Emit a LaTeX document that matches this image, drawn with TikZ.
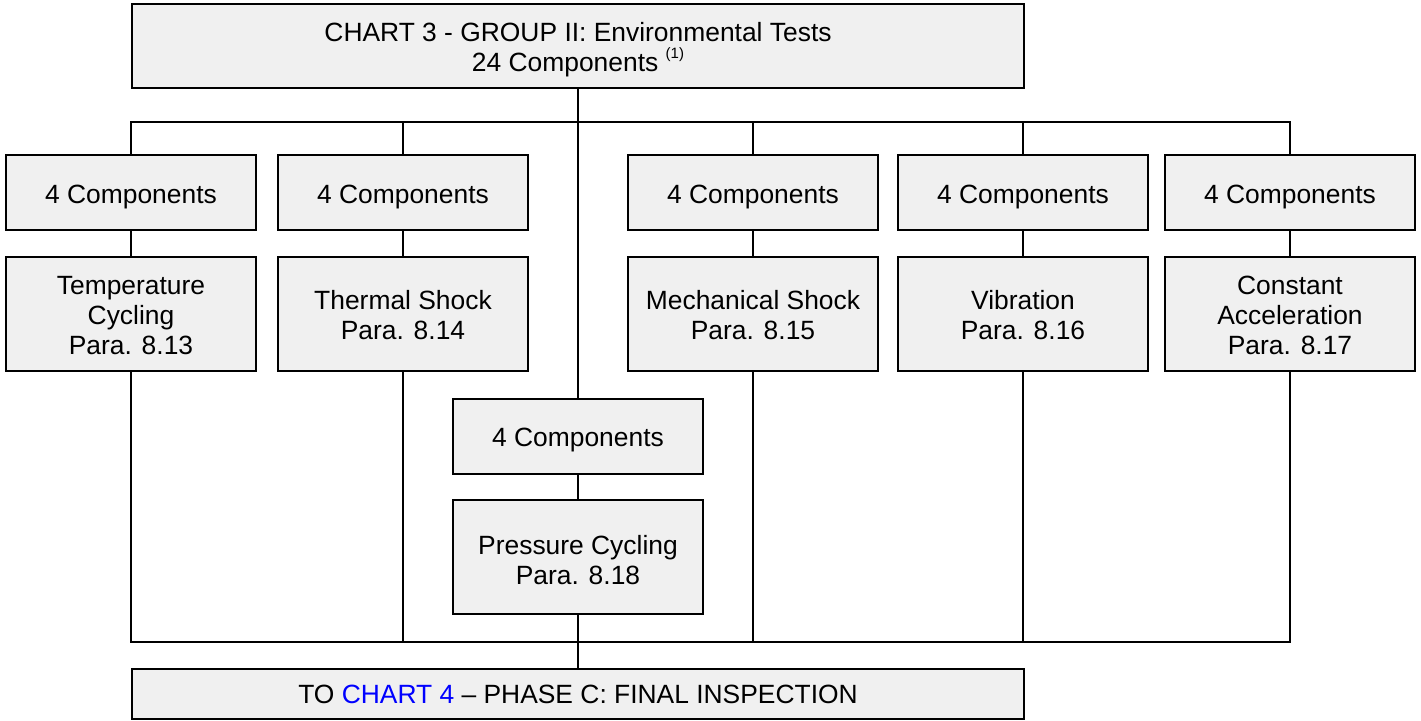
\documentclass[tikz,border=0pt]{standalone}
\usepackage{fontspec}
\setmainfont{Liberation Sans}
\usetikzlibrary{calc}
\definecolor{boxgray}{RGB}{240,240,240}
\definecolor{linkblue}{RGB}{0,0,255}
\newcommand{\lowstrut}[1]{\rule{0pt}{#1}}
\tikzset{
  chartbox/.style={draw=black,line width=2pt,fill=boxgray,inner sep=0pt,align=center,font=\fontsize{26.4}{30}\selectfont},
  countbox/.style={chartbox,minimum width=250pt,minimum height=75pt},
  testbox/.style={chartbox,minimum width=250pt,minimum height=114pt},
  wire/.style={black,line width=2pt},
}

\begin{document}
\begin{tikzpicture}[x=1pt,y=-1pt]
\useasboundingbox (0,0) rectangle (1421,720);
\node[chartbox,line width=2.5pt,minimum width=892pt,minimum height=84pt] (head) at (578,46)
  {\lowstrut{27pt}CHART 3 - GROUP II: Environmental Tests\\24 Components \raisebox{.5em}{\fontsize{15}{15}\selectfont(1)}};

\foreach \n/\x in {a/131,b/403,d/753,e/1023,f/1290}  {
 \node[countbox] (n\n) at (\x,192.5) {\lowstrut{27pt}4 Components};
}
\node[countbox] (nc) at (578,436) {\lowstrut{27pt}4 Components};

\node[testbox] (ta) at (131,313.5) {\lowstrut{23pt}Temperature\\Cycling\\Para. 8.13};
\node[testbox] (tb) at (403,313.5) {\lowstrut{23pt}Thermal Shock\\Para. 8.14};
\node[testbox] (tc) at (578,557) {\lowstrut{25pt}Pressure Cycling\\Para. 8.18};
\node[testbox] (td) at (753,313.5) {\lowstrut{23pt}Mechanical Shock\\Para. 8.15};
\node[testbox] (te) at (1023,313.5) {\lowstrut{23pt}Vibration\\Para. 8.16};
\node[testbox] (tf) at (1290,313.5) {\lowstrut{23pt}Constant\\Acceleration\\Para. 8.17};

\node[chartbox,minimum width=892pt,minimum height=50pt] (foot) at (578,694)
  {TO \textcolor{linkblue}{CHART 4} – PHASE C: FINAL INSPECTION};

\coordinate (topbus) at (578,122);
\coordinate (lowbus) at (578,642);
\draw[wire] (head) -- (topbus);
\foreach \n in {a,b,c,d,e,f}  {
 \draw[wire] (n\n.north) |- (topbus);
 \draw[wire] (n\n) -- (t\n);
 \draw[wire] (t\n.south) |- (lowbus);
}
\draw[wire] (lowbus) -- (foot);
\end{tikzpicture}
\end{document}
